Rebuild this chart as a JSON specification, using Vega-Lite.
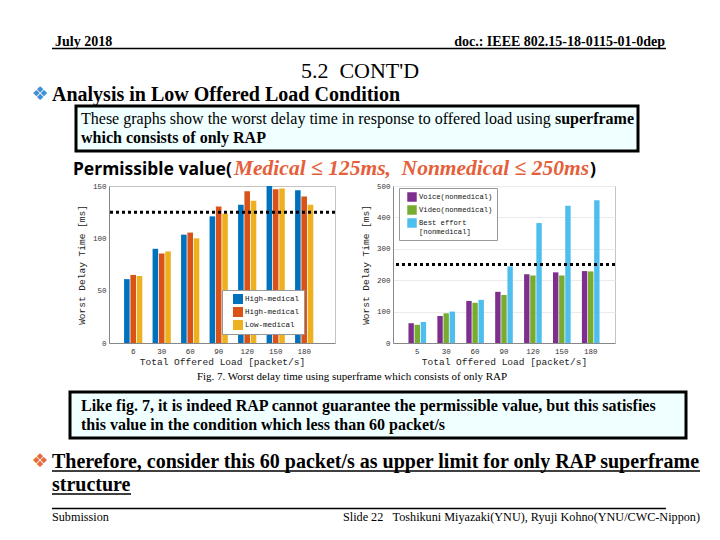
{
  "$schema": "https://vega.github.io/schema/vega-lite/v6.json",
  "background": "white",
  "padding": 0,
  "config": {
    "view": {"stroke": null},
    "concat": {"spacing": 0}
  },
  "datasets": {
    "medical": [
      {"load": 6, "series": "High-medical", "delay": 61},
      {"load": 6, "series": "Mid-medical", "delay": 65},
      {"load": 6, "series": "Low-medical", "delay": 64},
      {"load": 30, "series": "High-medical", "delay": 90},
      {"load": 30, "series": "Mid-medical", "delay": 85.5},
      {"load": 30, "series": "Low-medical", "delay": 87.5},
      {"load": 60, "series": "High-medical", "delay": 103.5},
      {"load": 60, "series": "Mid-medical", "delay": 105.5},
      {"load": 60, "series": "Low-medical", "delay": 100},
      {"load": 90, "series": "High-medical", "delay": 121},
      {"load": 90, "series": "Mid-medical", "delay": 130.5},
      {"load": 90, "series": "Low-medical", "delay": 123.5},
      {"load": 120, "series": "High-medical", "delay": 132},
      {"load": 120, "series": "Mid-medical", "delay": 145},
      {"load": 120, "series": "Low-medical", "delay": 136},
      {"load": 150, "series": "High-medical", "delay": 150},
      {"load": 150, "series": "Mid-medical", "delay": 147},
      {"load": 150, "series": "Low-medical", "delay": 147.5},
      {"load": 180, "series": "High-medical", "delay": 146},
      {"load": 180, "series": "Mid-medical", "delay": 140},
      {"load": 180, "series": "Low-medical", "delay": 132}
    ],
    "nonmedical": [
      {"load": 5, "series": "Voice(nonmedical)", "delay": 63},
      {"load": 5, "series": "Video(nonmedical)", "delay": 58},
      {"load": 5, "series": "Best effort [nonmedical]", "delay": 67},
      {"load": 30, "series": "Voice(nonmedical)", "delay": 86},
      {"load": 30, "series": "Video(nonmedical)", "delay": 94.5},
      {"load": 30, "series": "Best effort [nonmedical]", "delay": 100},
      {"load": 60, "series": "Voice(nonmedical)", "delay": 134},
      {"load": 60, "series": "Video(nonmedical)", "delay": 128},
      {"load": 60, "series": "Best effort [nonmedical]", "delay": 137.5},
      {"load": 90, "series": "Voice(nonmedical)", "delay": 163},
      {"load": 90, "series": "Video(nonmedical)", "delay": 153},
      {"load": 90, "series": "Best effort [nonmedical]", "delay": 244},
      {"load": 120, "series": "Voice(nonmedical)", "delay": 219},
      {"load": 120, "series": "Video(nonmedical)", "delay": 215},
      {"load": 120, "series": "Best effort [nonmedical]", "delay": 382},
      {"load": 150, "series": "Voice(nonmedical)", "delay": 225},
      {"load": 150, "series": "Video(nonmedical)", "delay": 215},
      {"load": 150, "series": "Best effort [nonmedical]", "delay": 437},
      {"load": 180, "series": "Voice(nonmedical)", "delay": 229},
      {"load": 180, "series": "Video(nonmedical)", "delay": 228},
      {"load": 180, "series": "Best effort [nonmedical]", "delay": 455}
    ]
  },
  "spacing": 0,
  "vconcat": [
    {
      "width": 720,
      "height": 181,
      "data": {"values": [{}]},
      "layer": [
        {"mark": {"type": "text", "x": 55, "y": 46, "align": "left", "baseline": "alphabetic", "font": "Liberation Serif", "fontSize": 14, "fontWeight": "bold", "color": "black"}, "encoding": {"text": {"value": "July 2018"}}},
        {"mark": {"type": "text", "x": 665, "y": 46, "align": "right", "baseline": "alphabetic", "font": "Liberation Serif", "fontSize": 14, "fontWeight": "bold", "color": "black"}, "encoding": {"text": {"value": "doc.: IEEE 802.15-18-0115-01-0dep"}}},
        {"mark": {"type": "rule", "strokeWidth": 1.5, "color": "black"}, "encoding": {"x": {"value": 52}, "x2": {"value": 666}, "y": {"value": 48.5}}},
        {"mark": {"type": "text", "x": 360, "y": 78, "align": "center", "baseline": "alphabetic", "font": "Liberation Serif", "fontSize": 22, "color": "black"}, "encoding": {"text": {"value": "5.2\u00a0 CONT'D"}}},
        {"mark": {"type": "text", "x": 40, "y": 94, "align": "center", "baseline": "middle", "font": "DejaVu Sans", "fontSize": 19, "color": "#3d8fd6"}, "encoding": {"text": {"value": "❖"}}},
        {"mark": {"type": "text", "x": 52, "y": 101, "align": "left", "baseline": "alphabetic", "font": "Liberation Serif", "fontSize": 20, "fontWeight": "bold", "color": "black"}, "encoding": {"text": {"value": "Analysis in Low Offered Load Condition"}}},
        {"mark": {"type": "rect", "x": 76, "x2": 638, "y": 106, "y2": 151, "fill": "#f0ffff", "stroke": "black", "strokeWidth": 3}, "encoding": {}},
        {"mark": {"type": "text", "x": 81, "y": 124, "align": "left", "baseline": "alphabetic", "font": "Liberation Serif", "fontSize": 16, "color": "black"}, "encoding": {"text": {"value": "These graphs show the worst delay time in response to offered load using"}}},
        {"mark": {"type": "text", "x": 634, "y": 124, "align": "right", "baseline": "alphabetic", "font": "Liberation Serif", "fontSize": 16, "fontWeight": "bold", "color": "black"}, "encoding": {"text": {"value": "superframe"}}},
        {"mark": {"type": "text", "x": 81, "y": 143, "align": "left", "baseline": "alphabetic", "font": "Liberation Serif", "fontSize": 16, "fontWeight": "bold", "color": "black"}, "encoding": {"text": {"value": "which consists of only RAP"}}},
        {"mark": {"type": "text", "x": 73, "y": 175, "align": "left", "baseline": "alphabetic", "font": "Noto Sans", "fontSize": 17.5, "fontWeight": "bold", "color": "black"}, "encoding": {"text": {"value": "Permissible value("}}},
        {"mark": {"type": "text", "x": 589, "y": 175, "align": "right", "baseline": "alphabetic", "font": "Liberation Serif", "fontSize": 21.5, "fontStyle": "italic", "fontWeight": "bold", "color": "#e5603a"}, "encoding": {"text": {"value": "Medical ≤ 125ms,\u00a0 Nonmedical ≤ 250ms"}}},
        {"mark": {"type": "text", "x": 590, "y": 175, "align": "left", "baseline": "alphabetic", "font": "Noto Sans", "fontSize": 17.5, "fontWeight": "bold", "color": "black"}, "encoding": {"text": {"value": ")"}}}
      ]
    },
    {
      "bounds": "flush",
      "spacing": 0,
      "resolve": {"scale": {"x": "independent", "y": "independent", "xOffset": "independent", "color": "independent"}, "legend": {"color": "independent"}},
      "hconcat": [
        {"width": 109, "height": 204, "data": {"values": []}, "mark": "text", "encoding": {}},
        {
          "width": 226,
          "height": 157,
          "view": {"stroke": "#c4c4c4"},
          "data": {"name": "medical"},
          "layer": [
            {
              "mark": {"type": "bar"},
              "encoding": {
                "x": {"field": "load", "type": "ordinal", "sort": "ascending",
                  "scale": {"paddingInner": 0.36, "paddingOuter": 0.645, "align": 0.41},
                  "axis": {"title": "Total Offered Load [packet/s]", "labelAngle": 0, "labelFont": "Liberation Mono", "labelFontSize": 7.5, "labelColor": "#333", "titleFont": "Liberation Mono", "titleFontSize": 9.5, "titleFontWeight": "normal", "titleColor": "#222", "domainColor": "#888", "ticks": false, "labelPadding": 4, "titlePadding": 2}},
                "xOffset": {"field": "series", "type": "nominal", "sort": ["High-medical", "Mid-medical", "Low-medical"], "scale": {"paddingInner": 0.12}},
                "y": {"field": "delay", "type": "quantitative",
                  "scale": {"domain": [0, 150], "nice": false},
                  "axis": {"title": "Worst Delay Time [ms]", "values": [0, 50, 100, 150], "grid": false, "labelOverlap": false, "labelFont": "Liberation Mono", "labelFontSize": 7.5, "labelColor": "#333", "titleFont": "Liberation Mono", "titleFontSize": 9.5, "titleFontWeight": "normal", "titleColor": "#222", "domainColor": "#888", "ticks": false, "labelPadding": 3, "titlePadding": 6}},
                "color": {"field": "series", "type": "nominal",
                  "scale": {"domain": ["High-medical", "Mid-medical", "Low-medical"], "range": ["#0072BD", "#D95319", "#EDB120"]},
                  "legend": {"title": null, "orient": "none", "legendX": 113, "legendY": 104, "fillColor": "white", "strokeColor": "#999", "padding": 4, "symbolOffset": 7, "symbolType": "square", "symbolSize": 100, "symbolStrokeWidth": 0, "labelFont": "Liberation Mono", "labelFontSize": 7.5, "labelColor": "#111", "labelOffset": 2, "rowPadding": 3,
                    "labelExpr": "datum.label == 'Mid-medical' ? 'High-medical' : datum.label"}}
              }
            },
            {
              "data": {"values": [{"limit": 125}]},
              "mark": {"type": "rule", "strokeDash": [3, 3], "strokeWidth": 3, "color": "black"},
              "encoding": {"y": {"field": "limit", "type": "quantitative",
                "axis": {"title": "Worst Delay Time [ms]", "values": [0, 50, 100, 150], "grid": false, "labelOverlap": false, "labelFont": "Liberation Mono", "labelFontSize": 7.5, "labelColor": "#333", "titleFont": "Liberation Mono", "titleFontSize": 9.5, "titleFontWeight": "normal", "titleColor": "#222", "domainColor": "#888", "ticks": false, "labelPadding": 3, "titlePadding": 6}}}
            },
            {
              "data": {"values": [{"caption": "Fig. 7. Worst delay time using superframe which consists of only RAP"}]},
              "mark": {"type": "text", "x": 243, "y": 194, "align": "center", "baseline": "alphabetic", "font": "Liberation Serif", "fontSize": 11, "color": "black"},
              "encoding": {"text": {"field": "caption"}}
            }
          ]
        },
        {"width": 58, "height": 204, "data": {"values": []}, "mark": "text", "encoding": {}},
        {
          "width": 222,
          "height": 157,
          "view": {"stroke": "#c4c4c4"},
          "data": {"name": "nonmedical"},
          "layer": [
            {
              "mark": {"type": "bar"},
              "encoding": {
                "x": {"field": "load", "type": "ordinal", "sort": "ascending",
                  "scale": {"paddingInner": 0.39, "paddingOuter": 0.535},
                  "axis": {"title": "Total Offered Load [packet/s]", "labelAngle": 0, "labelFont": "Liberation Mono", "labelFontSize": 7.5, "labelColor": "#333", "titleFont": "Liberation Mono", "titleFontSize": 9.5, "titleFontWeight": "normal", "titleColor": "#222", "domainColor": "#888", "ticks": false, "labelPadding": 4, "titlePadding": 2}},
                "xOffset": {"field": "series", "type": "nominal", "sort": ["Voice(nonmedical)", "Video(nonmedical)", "Best effort [nonmedical]"], "scale": {"paddingInner": 0.12}},
                "y": {"field": "delay", "type": "quantitative",
                  "scale": {"domain": [0, 500], "nice": false},
                  "axis": {"title": "Worst Delay Time [ms]", "values": [0, 100, 200, 300, 400, 500], "grid": true, "gridColor": "#ebebeb", "labelOverlap": false, "labelFont": "Liberation Mono", "labelFontSize": 7.5, "labelColor": "#333", "titleFont": "Liberation Mono", "titleFontSize": 9.5, "titleFontWeight": "normal", "titleColor": "#222", "domainColor": "#888", "ticks": false, "labelPadding": 3, "titlePadding": 6}},
                "color": {"field": "series", "type": "nominal",
                  "scale": {"domain": ["Voice(nonmedical)", "Video(nonmedical)", "Best effort [nonmedical]"], "range": ["#7E2F8E", "#77AC30", "#4DBEEE"]},
                  "legend": {"title": null, "orient": "none", "legendX": 6, "legendY": 2, "fillColor": "white", "strokeColor": "#999", "padding": 4, "symbolOffset": 4, "symbolType": "square", "symbolSize": 90, "symbolStrokeWidth": 0, "labelFont": "Liberation Mono", "labelFontSize": 7.2, "labelColor": "#111", "labelOffset": 2, "rowPadding": 3,
                    "labelExpr": "datum.label == 'Best effort [nonmedical]' ? ['Best effort', '[nonmedical]'] : datum.label"}}
              }
            },
            {
              "data": {"values": [{"limit": 250}]},
              "mark": {"type": "rule", "strokeDash": [3, 3], "strokeWidth": 3, "color": "black"},
              "encoding": {"y": {"field": "limit", "type": "quantitative",
                "axis": {"title": "Worst Delay Time [ms]", "values": [0, 100, 200, 300, 400, 500], "grid": true, "gridColor": "#ebebeb", "labelOverlap": false, "labelFont": "Liberation Mono", "labelFontSize": 7.5, "labelColor": "#333", "titleFont": "Liberation Mono", "titleFontSize": 9.5, "titleFontWeight": "normal", "titleColor": "#222", "domainColor": "#888", "ticks": false, "labelPadding": 3, "titlePadding": 6}}}
            }
          ]
        },
        {"width": 105, "height": 204, "data": {"values": []}, "mark": "text", "encoding": {}}
      ]
    },
    {
      "width": 720,
      "height": 150,
      "data": {"values": [{}]},
      "layer": [
        {"mark": {"type": "rect", "x": 70, "x2": 686, "y": 2, "y2": 48, "fill": "#f0ffff", "stroke": "black", "strokeWidth": 3}, "encoding": {}},
        {"mark": {"type": "text", "x": 81, "y": 21, "align": "left", "baseline": "alphabetic", "font": "Liberation Serif", "fontSize": 16, "fontWeight": "bold", "color": "black"}, "encoding": {"text": {"value": "Like fig. 7, it is indeed RAP cannot guarantee the permissible value, but this satisfies"}}},
        {"mark": {"type": "text", "x": 81, "y": 40, "align": "left", "baseline": "alphabetic", "font": "Liberation Serif", "fontSize": 16, "fontWeight": "bold", "color": "black"}, "encoding": {"text": {"value": "this value in the condition which less than 60 packet/s"}}},
        {"mark": {"type": "text", "x": 40, "y": 71, "align": "center", "baseline": "middle", "font": "DejaVu Sans", "fontSize": 19, "color": "#e86b3a"}, "encoding": {"text": {"value": "❖"}}},
        {"mark": {"type": "text", "x": 52, "y": 78, "align": "left", "baseline": "alphabetic", "font": "Liberation Serif", "fontSize": 20, "fontWeight": "bold", "color": "black"}, "encoding": {"text": {"value": "Therefore, consider this 60 packet/s as upper limit for only RAP superframe"}}},
        {"mark": {"type": "rule", "strokeWidth": 1.3, "color": "black"}, "encoding": {"x": {"value": 52}, "x2": {"value": 700}, "y": {"value": 81}}},
        {"mark": {"type": "text", "x": 52, "y": 101, "align": "left", "baseline": "alphabetic", "font": "Liberation Serif", "fontSize": 20, "fontWeight": "bold", "color": "black"}, "encoding": {"text": {"value": "structure"}}},
        {"mark": {"type": "rule", "strokeWidth": 1.3, "color": "black"}, "encoding": {"x": {"value": 52}, "x2": {"value": 131}, "y": {"value": 104}}},
        {"mark": {"type": "rule", "strokeWidth": 1.5, "color": "black"}, "encoding": {"x": {"value": 52}, "x2": {"value": 666}, "y": {"value": 118.5}}},
        {"mark": {"type": "text", "x": 52, "y": 131, "align": "left", "baseline": "alphabetic", "font": "Liberation Serif", "fontSize": 12.2, "color": "black"}, "encoding": {"text": {"value": "Submission"}}},
        {"mark": {"type": "text", "x": 343, "y": 131, "align": "left", "baseline": "alphabetic", "font": "Liberation Serif", "fontSize": 12.2, "color": "black"}, "encoding": {"text": {"value": "Slide 22"}}},
        {"mark": {"type": "text", "x": 700, "y": 131, "align": "right", "baseline": "alphabetic", "font": "Liberation Serif", "fontSize": 12.2, "color": "black"}, "encoding": {"text": {"value": "Toshikuni Miyazaki(YNU), Ryuji Kohno(YNU/CWC-Nippon)"}}}
      ]
    }
  ]
}
